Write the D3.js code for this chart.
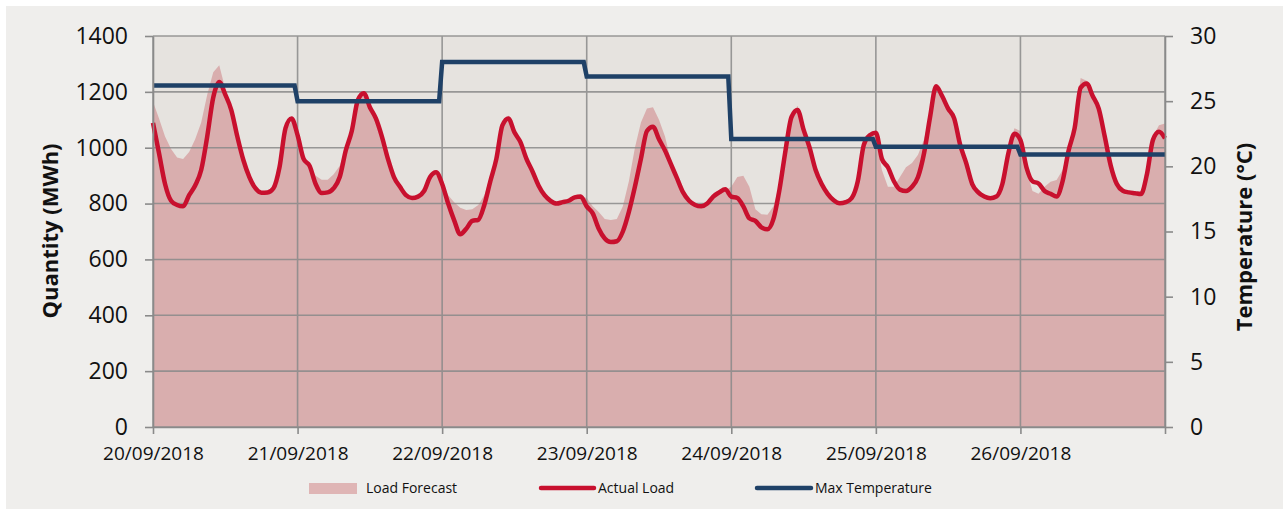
<!DOCTYPE html>
<html>
<head>
<meta charset="utf-8">
<script src="https://cdn.jsdelivr.net/npm/d3@7"></script>
<style>
    body { margin: 0; background: #ffffff; }
    text { font-family: "Open Sans", sans-serif; fill: #111; }
</style>
</head>
<body>
<div id="chart"></div>
<script>
// Day labels on the x-axis (one tick every 24 hours)
const dayLabels = ["20/09/2018", "21/09/2018", "22/09/2018", "23/09/2018", "24/09/2018", "25/09/2018", "26/09/2018"];

// Hourly actual load (MWh), 20/09 00:00 to 27/09 00:00
const actualLoad = [
    1089, 980, 870, 810, 795, 790, 830, 865, 920, 1040, 1180, 1235, 1190, 1135, 1040, 956, 895, 855, 839, 840, 855, 930, 1070, 1105,
    1045, 960, 935, 870, 838, 840, 855, 895, 990, 1060, 1170, 1195, 1145, 1105, 1040, 960, 895, 860, 830, 820, 825, 845, 895, 912,
    870, 800, 740, 690, 710, 738, 742, 795, 880, 960, 1080, 1105, 1055, 1020, 960, 915, 865, 830, 810, 800, 805, 810, 822, 825,
    790, 765, 710, 675, 662, 665, 700, 770, 860, 960, 1060, 1075, 1030, 990, 940, 890, 840, 810, 795, 790, 800, 825, 840, 851,
    825, 820, 790, 747, 738, 715, 708, 745, 850, 990, 1110, 1135, 1065, 1000, 920, 870, 835, 812, 801, 805, 820, 880, 1010, 1045,
    1054, 960, 930, 880, 850, 845, 860, 895, 980, 1110, 1220, 1185, 1140, 1105, 1010, 945, 870, 840, 825, 819, 825, 870, 980, 1050,
    1028, 930, 880, 872, 845, 835, 825, 880, 990, 1070, 1215, 1230, 1185, 1140, 1040, 935, 870, 846, 840, 837, 834, 905, 1028, 1057,
    1034
];

// Hourly load forecast (MWh)
const loadForecast = [
    1165, 1105, 1040, 995, 965, 960, 985, 1030, 1090, 1190, 1270, 1295, 1210, 1140, 1040, 950, 890, 850, 835, 835, 850, 925, 1060, 1095,
    1040, 960, 930, 900, 885, 885, 905, 935, 1000, 1080, 1180, 1190, 1145, 1100, 1035, 955, 890, 855, 830, 820, 825, 850, 900, 910,
    875, 830, 805, 785, 777, 780, 795, 830, 900, 980, 1090, 1115, 1060, 1020, 960, 910, 860, 830, 810, 800, 805, 810, 822, 825,
    820, 790, 770, 745, 741, 745, 790, 880, 1000, 1090, 1140, 1145, 1100, 1040, 950, 890, 840, 810, 795, 790, 800, 825, 840, 848,
    860, 895, 900, 860, 780, 762, 760, 790, 870, 1000, 1120, 1150, 1070, 1000, 920, 870, 835, 812, 801, 805, 825, 890, 1010, 1050,
    1040, 920, 860, 860, 895, 930, 945, 975, 1030, 1120, 1225, 1185, 1140, 1100, 1010, 945, 870, 840, 825, 819, 825, 875, 990, 1070,
    1060, 920, 845, 835, 860, 878, 884, 920, 1000, 1090, 1250, 1240, 1190, 1140, 1040, 935, 870, 846, 840, 837, 840, 915, 1040, 1080,
    1087
];

// Daily max temperature (°C)
const maxTemp = [26.2, 25.0, 28.0, 26.9, 22.1, 21.5, 20.9];

// Tick values
const loadTicks = [0, 200, 400, 600, 800, 1000, 1200, 1400];
const tempTicks = [0, 5, 10, 15, 20, 25, 30];
const hourTicks = [0, 24, 48, 72, 96, 120, 144, 168];

const width = 1283, height = 509;
const plot = {left: 153, right: 1165, top: 36, bottom: 427};
const gridColor = "#8a8a8a";

let svg = d3.select("#chart").append("svg")
    .attr("width", width)
    .attr("height", height);

// Outer panel
svg.append("rect")
    .attr("x", 6).attr("y", 6)
    .attr("width", width - 6).attr("height", height - 6)
    .attr("fill", "#efeeec");

// Scales
let xScale = d3.scaleLinear().domain([0, 168]).range([plot.left, plot.right]);
let yLoad = d3.scaleLinear().domain([0, 1400]).range([plot.bottom, plot.top]);
let yTemp = d3.scaleLinear().domain([0, 30]).range([plot.bottom, plot.top]);

// Plot background
svg.append("rect")
    .attr("x", plot.left).attr("y", plot.top)
    .attr("width", plot.right - plot.left).attr("height", plot.bottom - plot.top)
    .attr("fill", "#e6e3df");

// Forecast area
let forecastArea = d3.area()
    .x((d, i) => xScale(i))
    .y0(yLoad(0))
    .y1(d => yLoad(d));

svg.append("path")
    .datum(loadForecast)
    .attr("fill", "#d9aeae")
    .attr("d", forecastArea);

// Gridlines (drawn over the area, like the original)
let grid = svg.append("g").attr("stroke", gridColor).attr("stroke-width", 1.6).attr("opacity", 0.85);
grid.selectAll("line.h").data(loadTicks).join("line")
    .attr("class", "h")
    .attr("x1", plot.left).attr("x2", plot.right)
    .attr("y1", d => yLoad(d)).attr("y2", d => yLoad(d));
grid.selectAll("line.v").data(hourTicks).join("line")
    .attr("class", "v")
    .attr("x1", d => xScale(d)).attr("x2", d => xScale(d))
    .attr("y1", plot.top).attr("y2", plot.bottom);

// Actual load line
let loadLine = d3.line()
    .x((d, i) => xScale(i))
    .y(d => yLoad(d))
    .curve(d3.curveMonotoneX);

svg.append("path")
    .datum(actualLoad)
    .attr("fill", "none")
    .attr("stroke", "#c8102e")
    .attr("stroke-width", 4.5)
    .attr("stroke-linejoin", "round")
    .attr("d", loadLine);

// Max temperature: one flat segment per day
let tempPoints = [];
maxTemp.forEach((t, i) => {
    tempPoints.push({h: i * 24, t: t});
    tempPoints.push({h: i === maxTemp.length - 1 ? 168 : i * 24 + 23.5, t: t});
});

let tempLine = d3.line()
    .x(d => xScale(d.h))
    .y(d => yTemp(d.t));

svg.append("path")
    .datum(tempPoints)
    .attr("fill", "none")
    .attr("stroke", "#1f4167")
    .attr("stroke-width", 4.5)
    .attr("d", tempLine);

// Axes
function styleAxis(g, size) {
    g.select(".domain").attr("stroke", gridColor).attr("stroke-width", 1.6);
    g.selectAll(".tick line").attr("stroke", gridColor).attr("stroke-width", 1.6);
    g.selectAll(".tick text").style("font-size", size).attr("fill", "#111");
}

let leftAxis = d3.axisLeft(yLoad).tickValues(loadTicks).tickSize(8).tickSizeOuter(0).tickPadding(17)
    .tickFormat(d3.format("d"));
svg.append("g")
    .attr("transform", `translate(${plot.left},0)`)
    .call(leftAxis)
    .call(g => styleAxis(g, "23px"));

let rightAxis = d3.axisRight(yTemp).tickValues(tempTicks).tickSize(8).tickSizeOuter(0).tickPadding(17);
svg.append("g")
    .attr("transform", `translate(${plot.right},0)`)
    .call(rightAxis)
    .call(g => styleAxis(g, "23px"));

let bottomAxis = d3.axisBottom(xScale).tickValues(hourTicks).tickSize(7).tickSizeOuter(0).tickPadding(13)
    .tickFormat(d => dayLabels[d / 24] || "");
svg.append("g")
    .attr("transform", `translate(0,${plot.bottom})`)
    .call(bottomAxis)
    .call(g => styleAxis(g, "19px"));

// Axis titles
svg.append("text")
    .attr("transform", "translate(58,231) rotate(-90)")
    .attr("text-anchor", "middle")
    .style("font-size", "22px")
    .style("font-weight", "bold")
    .text("Quantity (MWh)");

svg.append("text")
    .attr("transform", "translate(1252,237) rotate(-90)")
    .attr("text-anchor", "middle")
    .style("font-size", "22px")
    .style("font-weight", "bold")
    .text("Temperature (°C)");

// Legend
let legend = svg.append("g").style("font-size", "14px");
legend.append("rect").attr("x", 309).attr("y", 483).attr("width", 48).attr("height", 11).attr("fill", "#dfb5b5");
legend.append("text").attr("x", 366).attr("y", 493).text("Load Forecast");
legend.append("line").attr("x1", 541).attr("x2", 594).attr("y1", 488).attr("y2", 488)
    .attr("stroke", "#c8102e").attr("stroke-width", 4.5).attr("stroke-linecap", "round");
legend.append("text").attr("x", 598).attr("y", 493).text("Actual Load");
legend.append("line").attr("x1", 757).attr("x2", 811).attr("y1", 488).attr("y2", 488)
    .attr("stroke", "#1f4167").attr("stroke-width", 4.5).attr("stroke-linecap", "round");
legend.append("text").attr("x", 815).attr("y", 493).text("Max Temperature");
</script>
</body>
</html>
